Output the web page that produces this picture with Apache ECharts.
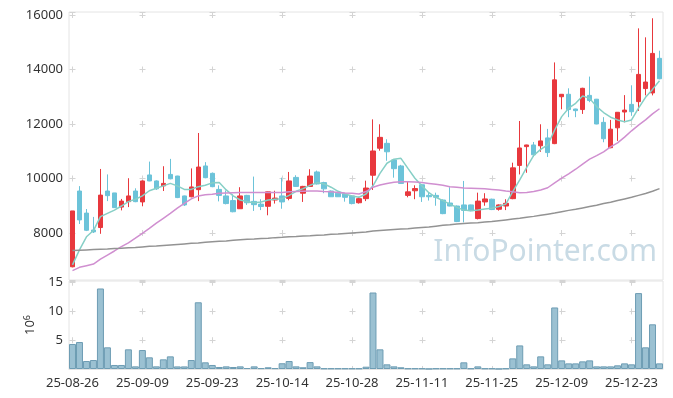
<!DOCTYPE html>
<html>
<head>
<meta charset="utf-8">
<script src="https://cdn.jsdelivr.net/npm/echarts@6/dist/echarts.min.js"></script>
<style>
html, body { margin: 0; padding: 0; background: #fff; }
#chart { width: 673px; height: 398px; }
</style>
</head>
<body>
<div id="chart"></div>
<script>
// trading days (yy-mm-dd)
var dates = [
    '25-08-26','25-08-27','25-08-28','25-08-29',
    '25-09-01','25-09-02','25-09-03','25-09-04','25-09-05',
    '25-09-08','25-09-09','25-09-10','25-09-11','25-09-12',
    '25-09-15','25-09-16','25-09-17','25-09-18','25-09-19',
    '25-09-22','25-09-23','25-09-24','25-09-25','25-09-26',
    '25-09-29','25-09-30','25-10-01','25-10-02','25-10-10',
    '25-10-13','25-10-14','25-10-15','25-10-16','25-10-17',
    '25-10-20','25-10-21','25-10-22','25-10-23','25-10-24',
    '25-10-27','25-10-28','25-10-29','25-10-30','25-10-31',
    '25-11-03','25-11-04','25-11-05','25-11-06','25-11-07',
    '25-11-10','25-11-11','25-11-12','25-11-13','25-11-14',
    '25-11-17','25-11-18','25-11-19','25-11-20','25-11-21',
    '25-11-24','25-11-25','25-11-26','25-11-27','25-11-28',
    '25-12-01','25-12-02','25-12-03','25-12-04','25-12-05',
    '25-12-08','25-12-09','25-12-10','25-12-11','25-12-12',
    '25-12-15','25-12-16','25-12-17','25-12-18','25-12-19',
    '25-12-22','25-12-23','25-12-24','25-12-26','25-12-29','25-12-30'
];

var opens = [
    6760, 9540, 8730, 8110, 8200, 9540, 9470, 8950, 9150, 9540,
    9140, 10130, 9910, 9730, 10150, 10090, 9360, 9330, 9590, 10460,
    10190, 9600, 9360, 9190, 8890, 9380, 9160, 9060, 8980, 9210,
    9360, 9270, 10040, 9460, 9710, 10240, 9850, 9540, 9460, 9430,
    9360, 9110, 9260, 10120, 11110, 11290, 10680, 10460, 9380, 9550,
    9770, 9380, 9380, 9210, 9100, 8990, 9030, 9030, 8530, 9140,
    9240, 8870, 8990, 9260, 10480, 11170, 11230, 11200, 11490, 11280,
    13000, 13090, 12550, 12530, 13050, 12910, 12060, 11130, 11860, 12440,
    12720, 12820, 13300, 13140, 14410
];
var closes = [
    8810, 8480, 8100, 8040, 9390, 9370, 8930, 9170, 9360, 9150,
    9910, 9910, 9620, 9820, 9990, 9300, 9030, 9690, 10420, 10030,
    9700, 9380, 9080, 8780, 9360, 9110, 9040, 8970, 9510, 9280,
    9140, 9910, 9710, 9710, 10090, 9800, 9620, 9330, 9330, 9310,
    9080, 9260, 9650, 11010, 11510, 10980, 10360, 9820, 9510, 9630,
    9330, 9330, 9310, 8710, 8990, 8420, 8830, 8820, 9170, 9250,
    8860, 9030, 9090, 10390, 11120, 11230, 10870, 11380, 10950, 13620,
    13090, 12530, 12490, 13310, 12860, 12000, 11460, 11810, 12430, 12510,
    12450, 13820, 13540, 14590, 13660
];
var lows = [
    6740, 8330, 8070, 8000, 7970, 9170, 8920, 8830, 8950, 9130,
    8980, 9900, 9580, 9540, 9970, 9280, 8990, 9310, 9170, 10010,
    9680, 9160, 9050, 8760, 8880, 9030, 8810, 8840, 8650, 9080,
    8890, 9200, 9700, 9140, 9700, 9780, 9460, 9320, 9320, 9150,
    9050, 9080, 9170, 9580, 11020, 10650, 10030, 9800, 9310, 9240,
    9140, 9190, 9000, 8690, 8980, 8400, 8390, 8800, 8500, 9000,
    8840, 8820, 8840, 9240, 10150, 10210, 10790, 10980, 10790, 11260,
    12540, 12250, 12250, 12370, 12800, 11990, 11330, 11110, 11380, 12060,
    12300, 12480, 13050, 13050, 13640
];
var highs = [
    8810, 9720, 8880, 8590, 10350, 10150, 9470, 9250, 10010, 9640,
    9930, 10620, 9930, 10450, 10720, 10100, 9370, 10370, 11670, 10600,
    10220, 9750, 9560, 9420, 9680, 9400, 10070, 9240, 9520, 9550,
    10030, 10240, 10120, 9730, 10340, 10290, 9880, 9560, 9470, 9450,
    9370, 9330, 9920, 12170, 11990, 11440, 10700, 10500, 9900, 9750,
    9800, 9480, 9480, 9230, 9680, 9010, 9910, 9040, 9480, 9460,
    9260, 9050, 9240, 10580, 12110, 11240, 11340, 11990, 11820, 14260,
    13100, 13310, 12560, 13330, 13740, 12920, 12250, 12150, 12440, 13060,
    13420, 15510, 15180, 15880, 14690
];

// moving averages as drawn
var ma5 = [
    6830, 7380, 7860, 8090, 8600, 8720, 8840, 8990, 9150, 9240,
    9360, 9550, 9640, 9730, 9820, 9730, 9600, 9600, 9700, 9750,
    9840, 9850, 9580, 9360, 9210, 9150, 9110, 9140, 9210, 9240,
    9260, 9380, 9530, 9630, 9750, 9850, 9800, 9680, 9530, 9430,
    9360, 9310, 9430, 9730, 10190, 10560, 10710, 10740, 10370, 10010,
    9730, 9480, 9310, 9190, 9060, 8940, 8840, 8820, 8840, 8880,
    8910, 8970, 9060, 9520, 9950, 10410, 10850, 11070, 11230, 11780,
    12270, 12580, 12760, 13030, 12940, 12640, 12420, 12250, 12150, 12080,
    12150, 12580, 12980, 13270, 13590
];
var ma20 = [
    6620, 6740, 6800, 6860, 7040, 7190, 7340, 7500, 7640, 7810,
    7990, 8170, 8360, 8540, 8720, 8910, 9090, 9250, 9360, 9400,
    9420, 9460, 9470, 9480, 9490, 9490, 9490, 9490, 9490, 9490,
    9490, 9510, 9520, 9530, 9540, 9540, 9520, 9510, 9490, 9470,
    9460, 9430, 9520, 9680, 9760, 9820, 9860, 9880, 9880, 9870,
    9850, 9820, 9790, 9750, 9700, 9680, 9650, 9640, 9630, 9620,
    9600, 9580, 9540, 9510, 9480, 9490, 9520, 9580, 9660, 9840,
    10010, 10170, 10340, 10530, 10710, 10840, 10980, 11160, 11310, 11520,
    11750, 11960, 12150, 12370, 12560
];
var ma60 = [
    7360, 7370, 7380, 7390, 7400, 7410, 7430, 7440, 7460, 7470,
    7490, 7510, 7520, 7540, 7560, 7580, 7600, 7620, 7630, 7660,
    7680, 7700, 7710, 7730, 7750, 7770, 7780, 7800, 7810, 7830,
    7840, 7860, 7870, 7890, 7900, 7920, 7930, 7950, 7960, 7980,
    8000, 8020, 8040, 8070, 8090, 8110, 8130, 8150, 8160, 8180,
    8200, 8220, 8250, 8280, 8300, 8330, 8350, 8370, 8380, 8400,
    8420, 8450, 8480, 8510, 8540, 8580, 8610, 8650, 8690, 8730,
    8780, 8830, 8870, 8920, 8970, 9020, 9080, 9130, 9190, 9250,
    9310, 9380, 9450, 9530, 9630
];

// volume, x10^6
var volumes = [
    4.35, 4.69, 1.39, 1.56, 14.0, 3.77, 0.70, 0.70, 3.42, 0.46,
    3.30, 2.03, 0.46, 1.68, 2.20, 0.45, 0.45, 1.56, 11.6, 1.16,
    0.70, 0.35, 0.46, 0.35, 0.46, 0.17, 0.46, 0.15, 0.30, 0.15,
    1.00, 1.39, 0.46, 0.30, 1.20, 0.46, 0.10, 0.10, 0.10, 0.10,
    0.10, 0.10, 0.40, 13.3, 3.42, 0.81, 0.46, 0.30, 0.10, 0.10,
    0.10, 0.02, 0.10, 0.10, 0.10, 0.10, 1.16, 0.10, 0.46, 0.10,
    0.10, 0.02, 0.10, 1.85, 4.10, 0.81, 0.46, 2.20, 0.81, 10.7,
    1.50, 0.98, 0.98, 1.33, 1.50, 0.46, 0.46, 0.46, 0.64, 0.98,
    0.81, 13.2, 3.77, 7.77, 0.98
];

// echarts candlestick wants [open, close, low, high]
var candleData = opens.map(function (o, i) {
    return [o, closes[i], lows[i], highs[i]];
});

var UP = '#E8383D', DOWN = '#6CC3D9';
var gridCol = '#e4e4e4', plusCol = '#d4d4d4';

var myChart = echarts.init(document.getElementById('chart'));

var option = {
    animation: false,
    textStyle: { fontFamily: 'Noto Sans' },
    graphic: [{
        type: 'text',
        right: 16,
        top: 237,
        z: 0,
        silent: true,
        style: {
            text: 'InfoPointer.com',
            font: '30px "Noto Sans"',
            fill: '#C9DBE5'
        }
    }],
    grid: [
        { left: 69, right: 10, top: 12, height: 268, show: true, borderColor: gridCol, borderWidth: 1 },
        { left: 69, right: 10, top: 281, height: 88, show: true, borderColor: gridCol, borderWidth: 1 }
    ],
    xAxis: [
        {
            type: 'category', gridIndex: 0, data: dates,
            axisLine: { show: false }, axisTick: { show: false }, axisLabel: { show: false },
            // little "+" marks instead of full grid lines
            splitLine: { show: true, interval: 9, alignWithLabel: true,
                lineStyle: { color: plusCol, type: [6, 48.5], dashOffset: 0 } }
        },
        {
            type: 'category', gridIndex: 1, data: dates,
            axisLine: { show: true, lineStyle: { color: gridCol } },
            axisTick: { show: false },
            axisLabel: { interval: 9, color: '#333', fontSize: 13, margin: 8 },
            splitLine: { show: true, interval: 9, alignWithLabel: true,
                lineStyle: { color: plusCol, type: [6, 22.76], dashOffset: 1.3 } }
        }
    ],
    yAxis: [
        {
            type: 'value', gridIndex: 0, min: 6275, max: 16110,
            axisLine: { show: false }, axisTick: { show: false },
            axisLabel: {
                color: '#333', fontSize: 13, margin: 6, showMinLabel: false, showMaxLabel: false,
                formatter: function (v) { return String(v); }
            },
            splitLine: { show: true, lineStyle: { color: plusCol, type: [6, 64], dashOffset: -0.5 } }
        },
        {
            type: 'value', gridIndex: 1, min: 0, max: 15.3, interval: 5,
            axisLine: { show: false }, axisTick: { show: false },
            axisLabel: { color: '#333', fontSize: 13, margin: 6, showMinLabel: false, showMaxLabel: false },
            splitLine: { show: true, lineStyle: { color: plusCol, type: [6, 64], dashOffset: -0.5 } },
            name: '10{s|6}',
            nameLocation: 'middle',
            nameRotate: 90,
            nameGap: 30,
            nameTextStyle: {
                color: '#333', fontSize: 13,
                rich: { s: { fontSize: 9, color: '#333', padding: [0, 0, 7, 0] } }
            }
        }
    ],
    series: [
        {
            name: 'price', type: 'candlestick', xAxisIndex: 0, yAxisIndex: 0,
            data: candleData, barWidth: 5,
            itemStyle: { color: UP, color0: DOWN, borderColor: UP, borderColor0: DOWN, borderWidth: 1 }
        },
        {
            name: 'MA5', type: 'line', xAxisIndex: 0, yAxisIndex: 0, data: ma5,
            symbol: 'none', silent: true,
            lineStyle: { color: '#86CFC6', width: 1.5 }
        },
        {
            name: 'MA20', type: 'line', xAxisIndex: 0, yAxisIndex: 0, data: ma20,
            symbol: 'none', silent: true,
            lineStyle: { color: '#D08FD0', width: 1.5 }
        },
        {
            name: 'MA60', type: 'line', xAxisIndex: 0, yAxisIndex: 0, data: ma60,
            symbol: 'none', silent: true,
            lineStyle: { color: '#939393', width: 1.5 }
        },
        {
            name: 'volume', type: 'bar', xAxisIndex: 1, yAxisIndex: 1, data: volumes,
            barCategoryGap: '0%',
            itemStyle: { color: '#9BC1D2', borderColor: '#6E9DB4', borderWidth: 1 }
        }
    ]
};
myChart.setOption(option);
</script>
</body>
</html>
